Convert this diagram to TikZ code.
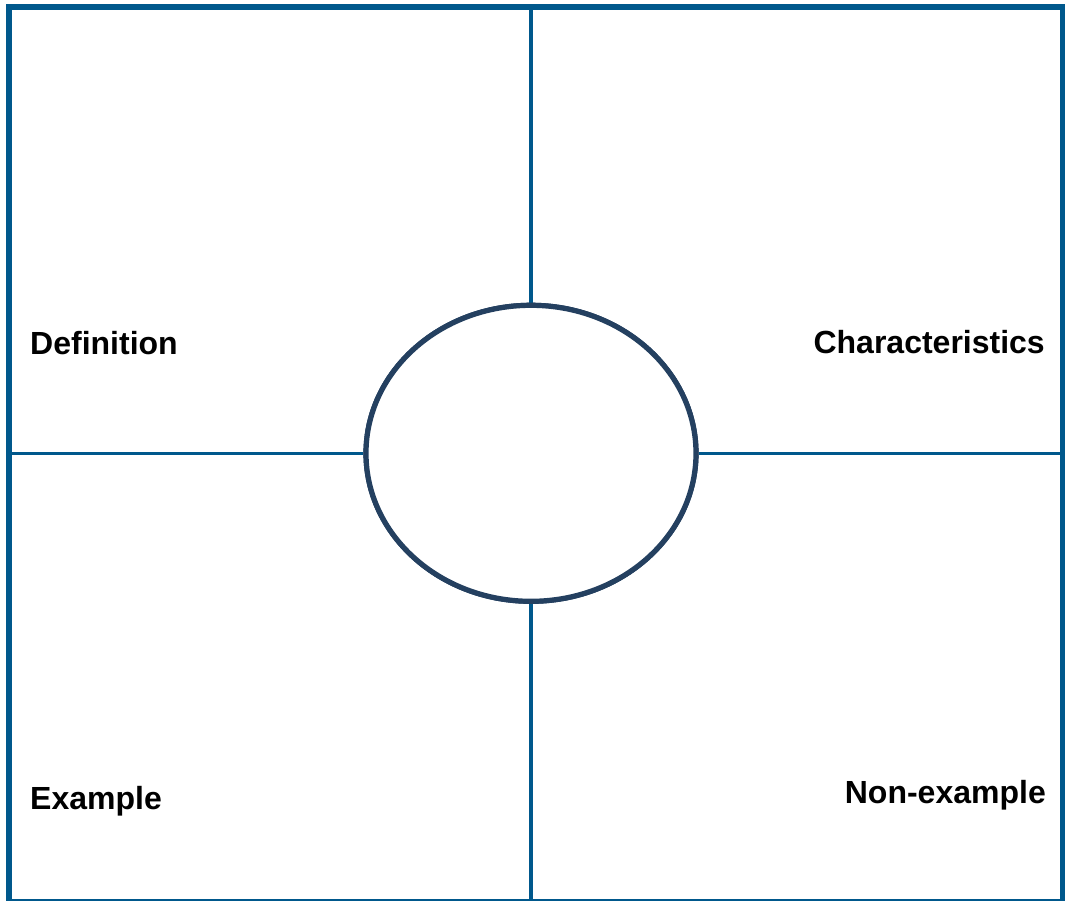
\documentclass[tikz,border=0pt]{standalone}
\usepackage{fontspec}
\setmainfont{Liberation Sans}
\usetikzlibrary{shapes.geometric}
\definecolor{frameblue}{RGB}{0,88,140}
\definecolor{navy}{RGB}{36,64,96}
\begin{document}
\begin{tikzpicture}[x=1pt,y=-1pt,
  gridline/.style={draw=frameblue,line width=3.4pt},
  label/.style={inner sep=0pt,font=\fontsize{32}{38}\selectfont\bfseries,text=black},
  center/.style={ellipse,draw=navy,fill=white,line width=5.2pt,minimum width=330pt,minimum height=296pt,inner sep=0pt}]
\useasboundingbox (0,0) rectangle (1065,901);
\coordinate (tl) at (8.8,7);
\coordinate (br) at (1062.5,901.5);
\coordinate (top) at (531,7);
\coordinate (bot) at (531,901.5);
\coordinate (lft) at (8.8,453.3);
\coordinate (rgt) at (1062.5,453.3);
\node[center] (c) at (531,453.3) {};
\draw[gridline] (top) -- (c.north);
\draw[gridline] (c.south) -- (bot);
\draw[gridline] (lft) -- (c.west);
\draw[gridline] (c.east) -- (rgt);
\node[center] at (c) {};
\draw[draw=frameblue,line width=5.5pt] (tl) rectangle (br);
\node[label,anchor=base west] (def) at (30,354) {Definition};
\node[label,anchor=base east] (char) at (1045,353) {Characteristics};
\node[label,anchor=base west] (ex) at (30,809) {Example};
\node[label,anchor=base east] (nex) at (1046,803) {Non-example};
\end{tikzpicture}
\end{document}
